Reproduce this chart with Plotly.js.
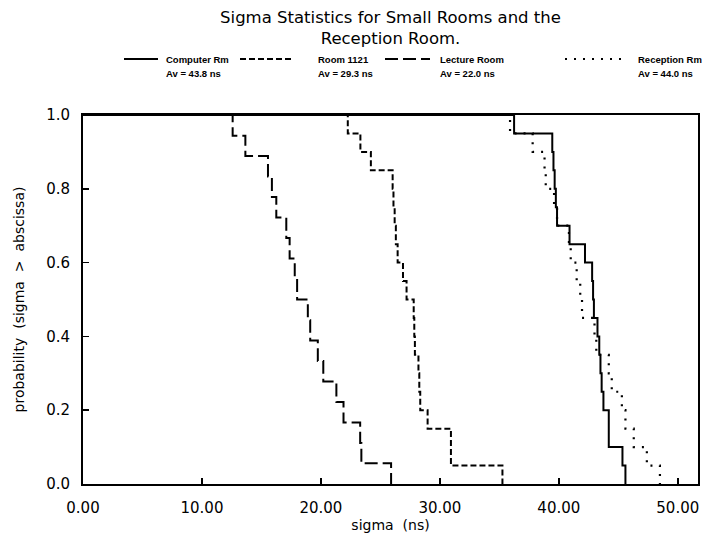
<!DOCTYPE html>
<html>
<head>
<meta charset="utf-8">
<script src="https://cdn.plot.ly/plotly-3.0.1.min.js"></script>
<style>
  html, body { margin: 0; padding: 0; background: #ffffff; }
  #chart { width: 707px; height: 545px; }
</style>
</head>
<body>
<div id="chart"></div>
<script>
// Survival curves P(sigma > x): sigma value at each step and the level after it.
const computerSigma = [36.24, 39.45, 39.55, 39.65, 39.75, 39.85, 40.9, 42.2, 42.8, 42.88,
                       42.95, 43.25, 43.4, 43.5, 43.6, 43.75, 44.2, 44.2, 45.35, 45.6];
const computerProb  = [0.95, 0.90, 0.85, 0.80, 0.75, 0.70, 0.65, 0.60, 0.55, 0.50,
                       0.45, 0.40, 0.35, 0.30, 0.25, 0.20, 0.15, 0.10, 0.05, 0.00];

const room1121Sigma = [22.26, 23.32, 24.2, 26.03, 26.1, 26.2, 26.3, 26.45, 26.9, 27.2,
                       27.8, 27.85, 27.9, 28.2, 28.27, 28.35, 28.97, 30.93, 30.93, 35.26];
const room1121Prob  = [0.95, 0.90, 0.85, 0.80, 0.75, 0.70, 0.65, 0.60, 0.55, 0.50,
                       0.45, 0.40, 0.35, 0.30, 0.25, 0.20, 0.15, 0.10, 0.05, 0.00];

const lectureSigma  = [12.58, 13.65, 15.55, 15.88, 16.25, 17.09, 17.37, 17.8, 18.0,
                       18.9, 19.1, 19.74, 20.2, 21.3, 21.9, 23.3, 23.4, 25.9];
const lectureProb   = [0.944, 0.889, 0.833, 0.778, 0.722, 0.667, 0.611, 0.556, 0.500,
                       0.444, 0.389, 0.333, 0.278, 0.222, 0.167, 0.111, 0.056, 0.000];

const receptionSigma = [35.9, 37.8, 38.8, 38.9, 39.6, 39.85, 40.85, 41.0, 41.5, 41.8,
                        41.95, 43.0, 43.15, 44.2, 44.45, 45.3, 45.6, 46.3, 47.4, 48.5];
const receptionProb  = [0.95, 0.90, 0.85, 0.80, 0.75, 0.70, 0.65, 0.60, 0.55, 0.50,
                        0.45, 0.40, 0.35, 0.30, 0.25, 0.20, 0.15, 0.10, 0.05, 0.00];

// Legend entries
const roomNames    = ['Computer Rm', 'Room 1121', 'Lecture Room', 'Reception Rm'];
const roomAverages = ['43.8', '29.3', '22.0', '44.0'];

// Tick labels
const xTicks = [0, 10, 20, 30, 40, 50];
const yTicks = [0, 0.2, 0.4, 0.6, 0.8, 1.0];

const FONT = '"DejaVu Sans", "Liberation Sans", Arial, sans-serif';
const SMALL_FONT = '"Liberation Sans", Arial, sans-serif';
const lineStyles = [
  { color: '#000', width: 2, dash: 'solid' },
  { color: '#000', width: 2, dash: '6px,3px' },
  { color: '#000', width: 2, dash: '13px,5px' },
  { color: '#000', width: 2.2, dash: '2px,7px' }
];

// every curve starts at probability 1 from the left edge
function stepTrace(sigma, prob, style, name) {
  return {
    type: 'scatter',
    mode: 'lines',
    name: name,
    x: [0].concat(sigma),
    y: [1].concat(prob),
    line: Object.assign({ shape: 'hv' }, style),
    showlegend: false,
    hoverinfo: 'x+y+name'
  };
}

const traces = [
  stepTrace(computerSigma, computerProb, lineStyles[0], roomNames[0]),
  stepTrace(room1121Sigma, room1121Prob, lineStyles[1], roomNames[1]),
  stepTrace(lectureSigma, lectureProb, lineStyles[2], roomNames[2]),
  stepTrace(receptionSigma, receptionProb, lineStyles[3], roomNames[3])
];

// Page geometry (pixels)
const W = 707, H = 545;
const margin = { l: 83, r: 9, t: 115, b: 61 };
const plotW = W - margin.l - margin.r;
const plotH = H - margin.t - margin.b;
const px2paperX = p => (p - margin.l) / plotW;
const px2paperY = p => (H - margin.b - p) / plotH;

// Legend laid out as two text rows with a line sample before each name
const sampleX = [[124, 158], [240, 292], [385, 430], [565, 625]];
const textX   = [166, 318, 440, 638];
const row1Y = 59, row2Y = 74;

const shapes = [];
const annotations = [];
roomNames.forEach((nm, i) => {
  shapes.push({
    type: 'line', xref: 'paper', yref: 'paper',
    x0: px2paperX(sampleX[i][0]), x1: px2paperX(sampleX[i][1]),
    y0: px2paperY(row1Y), y1: px2paperY(row1Y),
    line: lineStyles[i]
  });
  annotations.push({
    xref: 'paper', yref: 'paper', x: px2paperX(textX[i]), y: px2paperY(row1Y),
    showarrow: false, text: '<b>' + nm + '</b>', xanchor: 'left', yanchor: 'middle',
    xshift: -2, font: { family: SMALL_FONT, size: 9.5, color: '#000' }
  });
  annotations.push({
    xref: 'paper', yref: 'paper', x: px2paperX(textX[i]), y: px2paperY(row2Y),
    showarrow: false, text: '<b>Av = ' + roomAverages[i] + ' ns</b>', xanchor: 'left', yanchor: 'middle',
    xshift: -2, font: { family: SMALL_FONT, size: 9.5, color: '#000' }
  });
});

const layout = {
  width: W, height: H,
  margin: margin,
  paper_bgcolor: '#fff', plot_bgcolor: '#fff',
  font: { family: FONT, color: '#000' },
  title: {
    text: 'Sigma Statistics for Small Rooms and the<br>Reception Room.',
    font: { family: FONT, size: 16.5, color: '#000' },
    xref: 'paper', x: 0.5, xanchor: 'center',
    yref: 'container', y: 1 - 23 / H, yanchor: 'top'
  },
  xaxis: {
    range: [0, 51.7],
    tickvals: xTicks, tickformat: '.2f',
    ticks: 'inside', ticklen: 6, tickwidth: 1.5, tickcolor: '#000',
    showline: true, linecolor: '#000', linewidth: 2, mirror: true,
    showgrid: false, zeroline: false,
    tickfont: { family: FONT, size: 15, color: '#000' },
    ticklabelstandoff: 9,
    title: { text: 'sigma\u00a0 (ns)', font: { family: FONT, size: 14, color: '#000' }, standoff: 3 },
    automargin: false
  },
  yaxis: {
    range: [0, 1],
    tickvals: yTicks, tickformat: '.1f',
    ticks: 'inside', ticklen: 6, tickwidth: 1.5, tickcolor: '#000',
    showline: true, linecolor: '#000', linewidth: 2, mirror: true,
    showgrid: false, zeroline: false,
    tickfont: { family: FONT, size: 15, color: '#000' },
    ticklabelstandoff: 8,
    title: { text: 'probability\u00a0 (sigma\u00a0 >\u00a0 abscissa)', font: { family: FONT, size: 14, color: '#000' }, standoff: 18 },
    automargin: false
  },
  shapes: shapes,
  annotations: annotations,
  showlegend: false
};

Plotly.newPlot('chart', traces, layout, { displayModeBar: false, staticPlot: true });
</script>
</body>
</html>
